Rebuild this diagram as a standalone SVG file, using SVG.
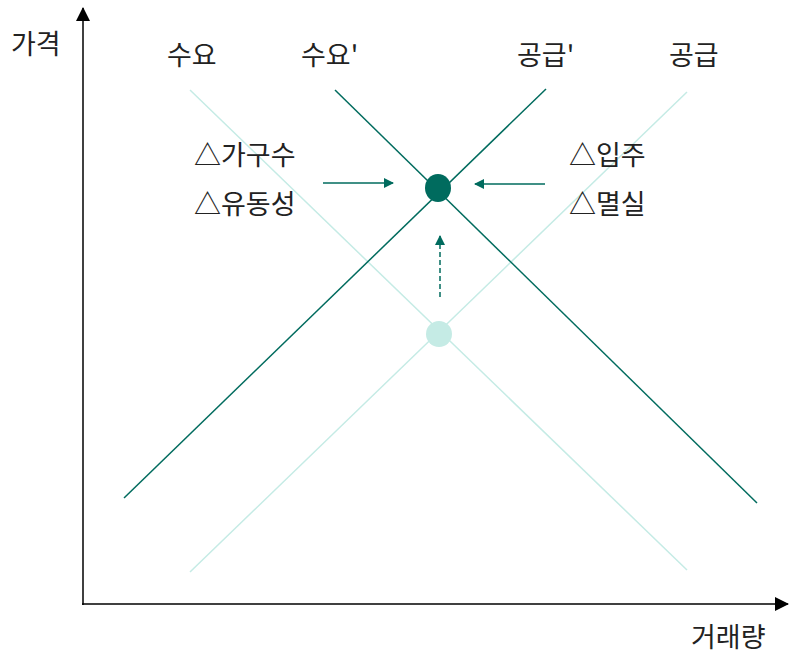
<svg xmlns="http://www.w3.org/2000/svg" width="789" height="656" viewBox="0 0 789 656">
<style>
text{font-family:"Noto Sans CJK KR","Noto Sans",sans-serif;font-size:27px;fill:#222}
.dk{stroke:#006B5E;stroke-width:1.5;fill:none}
.lt{stroke:#C5EBE5;stroke-width:1.5;fill:none}
.ax{stroke:#000;stroke-width:1.5;fill:none}
</style>
<defs>
<marker id="ah" markerWidth="10" markerHeight="10" refX="9" refY="5" orient="auto" markerUnits="userSpaceOnUse"><path d="M0,0 L10,5 L0,10 Z" fill="#006B5E"/></marker>
<marker id="axh" markerWidth="14" markerHeight="14" refX="13" refY="7" orient="auto" markerUnits="userSpaceOnUse"><path d="M0,0 L14,7 L0,14 Z" fill="#000"/></marker>
</defs>
<g id="axes">
<line class="ax" x1="83" y1="605" x2="83" y2="8" marker-end="url(#axh)"/>
<line class="ax" x1="82" y1="604" x2="788" y2="604" marker-end="url(#axh)"/>
<text x="11" y="54">가격</text>
<text x="691" y="647">거래량</text>
</g>
<g id="curves">
<line class="lt" x1="190" y1="90" x2="687" y2="570"/>
<line class="lt" x1="687" y1="92" x2="190" y2="572"/>
<line class="dk" x1="335" y1="90" x2="757" y2="503"/>
<line class="dk" x1="546" y1="89" x2="124" y2="498"/>
</g>
<g id="labels">
<text x="167" y="65">수요</text>
<text x="301" y="65">수요'</text>
<text x="517" y="65">공급'</text>
<text x="669" y="65">공급</text>
</g>
<g id="eq-new"><ellipse cx="438" cy="188" rx="13" ry="14" fill="#006B5E"/></g>
<g id="eq-old"><circle cx="439" cy="334" r="13" fill="#C5EBE5"/></g>
<g id="demand-factors">
<text x="194" y="165">△가구수</text>
<text x="194" y="214">△유동성</text>
</g>
<g id="supply-factors">
<text x="569" y="165">△입주</text>
<text x="569" y="214">△멸실</text>
</g>
<g id="connectors">
<line class="dk" x1="323" y1="183" x2="393" y2="183" marker-end="url(#ah)"/>
<line class="dk" x1="545" y1="184" x2="475" y2="184" marker-end="url(#ah)"/>
<line class="dk" x1="440" y1="297" x2="440" y2="236" stroke-dasharray="5,3" marker-end="url(#ah)"/>
</g>
</svg>
